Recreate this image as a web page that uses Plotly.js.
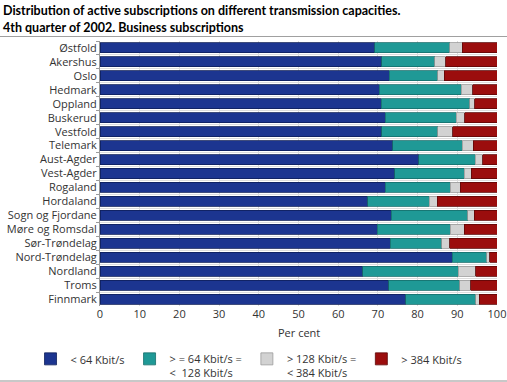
<!DOCTYPE html>
<html>
<head>
<meta charset="utf-8">
<script src="https://cdn.plot.ly/plotly-3.0.1.min.js"></script>
<style>
  html, body { margin: 0; padding: 0; background: #fff; }
  #wrap { position: relative; width: 507px; height: 382px; overflow: hidden; }
  #chart { position: absolute; left: 0; top: 0; width: 507px; height: 382px; }
  #sep { position: absolute; left: 0; top: 36px; width: 507px; height: 0; border-top: 1px solid #a0a0a0; }
  #bottom { position: absolute; left: 0; top: 380px; width: 507px; height: 0; border-top: 2px solid #c8c8c8; }
</style>
</head>
<body>
<div id="wrap">
  <div id="chart"></div>
  <div id="sep"></div>
  <div id="bottom"></div>
</div>
<script>
const counties = ["Østfold","Akershus","Oslo","Hedmark","Oppland","Buskerud","Vestfold","Telemark","Aust-Agder","Vest-Agder","Rogaland","Hordaland","Sogn og Fjordane","Møre og Romsdal","Sør-Trøndelag","Nord-Trøndelag","Nordland","Troms","Finnmark"];
const below64   = [69.2, 71.0, 72.8, 70.4, 70.8, 71.9, 71.0, 73.7, 80.3, 74.2, 71.8, 67.4, 73.3, 69.8, 73.1, 88.7, 66.2, 72.7, 77.0];
const from64to128 = [18.9, 13.3, 12.3, 20.6, 22.3, 17.8, 14.1, 17.6, 14.2, 17.6, 16.4, 15.5, 19.3, 18.4, 13.0, 8.7, 24.1, 17.9, 17.7];
const from128to384 = [3.2, 2.8, 1.6, 2.9, 1.3, 2.2, 3.7, 2.7, 1.9, 1.7, 2.6, 2.1, 1.7, 3.6, 2.0, 0.8, 4.3, 2.8, 0.8];
const above384  = [8.7, 12.9, 13.3, 6.1, 5.6, 8.1, 11.2, 6.0, 3.6, 6.5, 9.2, 15.0, 5.7, 8.2, 11.9, 1.8, 5.4, 6.6, 4.5];
const seriesNames = ["< 64 Kbit/s", "> = 64 Kbit/s =<br>< &nbsp;128 Kbit/s", "> 128 Kbit/s =<br>< 384 Kbit/s", "> 384 Kbit/s"];
const xTicks = [0,10,20,30,40,50,60,70,80,90,100];
const xAxisTitle = "Per cent";

const fills = ["#1c3590", "#1f9996", "#d2d2d2", "#9b0d0d"];
const lines = ["#0f1f5a", "#176e6b", "#9a9a9a", "#5e0808"];
const values = [below64, from64to128, from128to384, above384];

const data = values.map((v, i) => ({
  type: "bar",
  orientation: "h",
  name: seriesNames[i],
  x: v,
  y: counties,
  width: 0.72,
  marker: { color: fills[i], line: { color: lines[i], width: 0.8 } },
  hoverinfo: "x+y+name"
}));

const layout = {
  width: 507, height: 382,
  paper_bgcolor: "#fff", plot_bgcolor: "#fff",
  barmode: "stack",
  margin: { l: 100, r: 10, t: 41, b: 76, autoexpand: false },
  font: { family: "Open Sans, DejaVu Sans, sans-serif", size: 11, color: "#222" },
  title: {
    text: "<b>Distribution of active subscriptions on different transmission capacities.<br>4th quarter of 2002. Business subscriptions</b>",
    x: 0.006, xanchor: "left", xref: "container",
    y: 0.96, yanchor: "middle", yref: "container",
    font: { family: "Lato, Open Sans, sans-serif", size: 12.5, color: "#000" }
  },
  xaxis: {
    range: [0, 100],
    tickvals: xTicks,
    ticktext: xTicks.map(String),
    showgrid: true, gridcolor: "#dcdcdc", gridwidth: 1,
    zeroline: false,
    showline: false,
    ticks: "",
    tickfont: { size: 11, color: "#333" },
    fixedrange: true
  },
  yaxis: {
    type: "category",
    autorange: "reversed",
    tickson: "boundaries",
    showgrid: true, gridcolor: "#dcdcdc", gridwidth: 1,
    showline: true, linecolor: "#9a9a9a", linewidth: 1,
    ticks: "outside", ticklen: 3, tickcolor: "#9a9a9a",
    tickfont: { size: 11, color: "#333" },
    fixedrange: true
  },
  annotations: [{
    text: xAxisTitle,
    xref: "paper", x: 0.5, xanchor: "center",
    yref: "paper", y: -0.1, yanchor: "middle",
    showarrow: false,
    font: { size: 11, color: "#333" }
  }],
  legend: {
    orientation: "h",
    x: -0.175, xanchor: "left", xref: "paper",
    y: -0.148, yanchor: "top", yref: "paper",
    bgcolor: "rgba(0,0,0,0)",
    font: { size: 11, color: "#333" },
    traceorder: "normal",
    itemwidth: 30,
    valign: "top"
  },
  showlegend: true
};

Plotly.newPlot("chart", data, layout, { staticPlot: true, displayModeBar: false });
</script>
</body>
</html>
